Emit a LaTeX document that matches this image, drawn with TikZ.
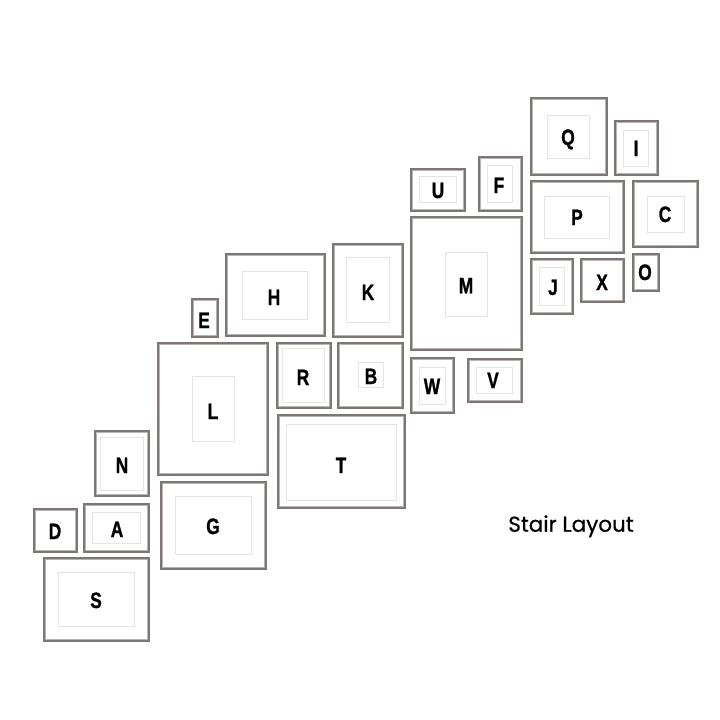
\documentclass[tikz,border=0pt]{standalone}
\usepackage{fontspec}
\usepackage{graphicx}
\setmainfont{Liberation Sans}
\newfontfamily\lblfont[BoldFeatures={FakeBold=1.2}]{Liberation Sans}
\newfontfamily\titlefont[FakeBold=0.6]{Poppins}
\usetikzlibrary{calc}
\definecolor{framegray}{RGB}{125,118,116}
\definecolor{framelight}{RGB}{185,181,179}
\definecolor{matgray}{RGB}{228,228,228}
\tikzset{
  frameline/.style={draw=framegray, line width=2.1pt},
  frameinner/.style={draw=framelight, line width=0.7pt},
  matline/.style={draw=matgray, line width=0.7pt},
  lbl/.style={font=\lblfont\fontsize{22.3}{22.3}\selectfont\bfseries, inner sep=0pt, anchor=base},
  titletext/.style={font=\titlefont\fontsize{21.5}{21.5}\selectfont, inner sep=0pt, anchor=base}
}
\newcommand\photoframe[4]{%
  \draw[frameline] ($(#1,#2)+(1.1,1.1)$) rectangle ($(#3,#4)-(1.1,1.1)$);
  \draw[frameinner] ($(#1,#2)+(2.5,2.5)$) rectangle ($(#3,#4)-(2.5,2.5)$);}
\newcommand\photomat[4]{\draw[matline] (#1,#2) rectangle (#3,#4);}
\newcommand\photolabel[3]{\node[lbl] (#1) at (#2,#3+8) {\scalebox{0.78}[1]{#1}};}
\begin{document}
\begin{tikzpicture}[x=1pt,y=-1pt]
\useasboundingbox[fill=white] (0,0) rectangle (720,720);
% Q
\photoframe{529.7}{97.3}{608.3}{175.7}\photomat{547}{115.7}{589.7}{158.3}\photolabel{Q}{568}{137}
% I
\photoframe{614}{120.3}{659}{176}\photomat{623.3}{130}{648.7}{166.3}\photolabel{I}{636}{148}
% U
\photoframe{410}{167.7}{466.3}{212.3}\photomat{419.7}{176.7}{456.3}{202.3}\photolabel{U}{438}{190}
% F
\photoframe{478}{155.7}{522.7}{212}\photomat{487.7}{165.7}{512.7}{202.3}\photolabel{F}{499}{185}
% P
\photoframe{529.7}{180.3}{625}{253.7}\photomat{544.3}{196.3}{609.7}{238.3}\photolabel{P}{577}{217}
% C
\photoframe{632.3}{180.3}{699.3}{248}\photomat{647.3}{196}{684}{232.7}\photolabel{C}{665}{214}
% M
\photoframe{410.3}{216}{522.7}{350.7}\photomat{445.3}{252}{487.7}{316.3}\photolabel{M}{466}{285.3}
% J
\photoframe{529.7}{258.3}{574.3}{314.7}\photomat{539}{267.7}{564.7}{305}\photolabel{J}{553}{287}
% X
\photoframe{580.3}{258}{625.3}{303.3}\photolabel{X}{602}{282}
% O
\photoframe{632}{252.7}{660.3}{292}\photolabel{O}{645}{272}
% W
\photoframe{410.3}{357.3}{455.3}{414}\photomat{419.7}{367}{445.3}{404.3}\photolabel{W}{432}{386}
% V
\photoframe{466.7}{357.7}{522.7}{403}\photomat{476.3}{367}{512.7}{393}\photolabel{V}{493}{380}
% H
\photoframe{225}{253.3}{325.7}{337}\photomat{242.7}{271.7}{307.3}{319.3}\photolabel{H}{274}{297}
% K
\photoframe{331.7}{242.7}{404.3}{337.7}\photomat{346.7}{257.3}{389}{322.3}\photolabel{K}{368}{292}
% E
\photoframe{191}{298.3}{219}{337.7}\photolabel{E}{204}{320}
% L
\photoframe{157.3}{341.7}{269.3}{475.7}\photomat{192.3}{376.7}{234}{441}\photolabel{L}{213}{411}
% R
\photoframe{275.7}{341.7}{332}{408.7}\photomat{282}{348.3}{324.7}{402.3}\photolabel{R}{303}{377}
% B
\photoframe{337.3}{341.7}{404.3}{408.7}\photomat{358.3}{362.3}{383.3}{387.7}\photolabel{B}{371}{376}
% T
\photoframe{276.7}{414.3}{405.7}{509.3}\photomat{286}{424}{396}{500}\photolabel{T}{341}{465}
% N
\photoframe{94.3}{430}{150.3}{496.7}\photomat{100.7}{437.3}{143.7}{490.7}\photolabel{N}{122}{465}
% D
\photoframe{33}{508}{78.3}{553.3}\photolabel{D}{55}{531}
% A
\photoframe{83.3}{502.7}{150.3}{552.7}\photomat{92.3}{512}{140.7}{543.3}\photolabel{A}{117}{529}
% G
\photoframe{160}{480.7}{266.7}{570.3}\photomat{175.3}{496}{251}{554.7}\photolabel{G}{213}{526}
% S
\photoframe{43.3}{556.7}{150.3}{641.7}\photomat{58.7}{572.7}{134.7}{626.7}\photolabel{S}{96}{600}
% title
\node[titletext] (title) at (571,531.7) {Stair Layout};
\end{tikzpicture}
\end{document}
